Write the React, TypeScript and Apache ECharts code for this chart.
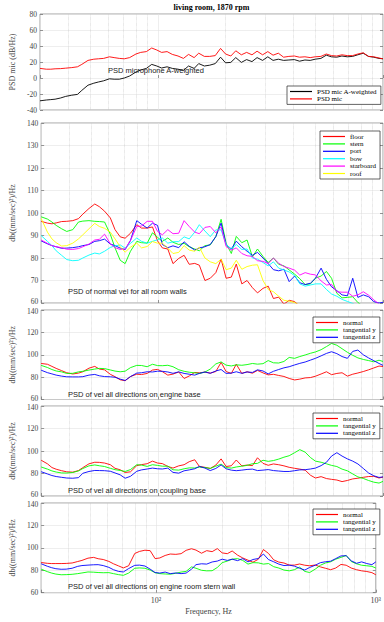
import React, { useEffect, useRef } from 'react';
import * as echarts from 'echarts';

const FREQ = [30, 32, 33.5, 35, 37, 39, 41.5, 44, 46, 49, 52, 54.5, 57.5, 61, 64, 67.5, 71, 75, 80, 84,
  89, 94, 99, 104, 110, 116, 123, 130, 137, 145, 152, 161, 170, 180, 190, 200, 211, 222, 235, 248,
  262, 276, 292, 308, 325, 343, 362, 382, 404, 426, 450, 475, 500, 530, 560, 590, 623, 657, 694, 733,
  773, 817, 862, 910, 960, 1000];

// Minor x grid lines
const X_MINOR = [40, 50, 60, 70, 80, 90, 200, 300, 400, 500, 600, 700, 800, 900];

// Panel 1: microphone
const MIC_A = [-28.5, -27.5, -27, -26.5, -25, -23, -21.5, -20.5, -15.5, -9,
  -6.5, -5, -3.5, -1, -1.5, -1.5, 0, 2.5, 7.5, 10,
  12, 17, 15, 12.5, 14, 12, 11, 9.5, 15, 12,
  18, 15, 16, 18, 26, 19, 19.5, 25.5, 19.5, 23,
  20.5, 25.5, 22, 26.5, 22, 23.5, 22, 22.5, 23, 21,
  22.5, 22, 23.5, 24.5, 28.5, 26.5, 26, 27.5, 26.5, 27,
  29, 31, 27, 26, 24.5, 24];
const MIC = [12, 11, 11, 11.5, 11.7, 12.3, 13, 14, 17, 22,
  23.5, 24, 24.5, 26.5, 25.5, 24.5, 24, 25.5, 30, 32,
  33, 37.5, 35, 32, 33, 29.5, 27.5, 24.5, 29.5, 25.5,
  31, 27, 27, 28, 37, 30, 27.5, 34, 29, 32,
  29, 33.5, 29, 33, 28.5, 31, 26, 27, 27.5, 26,
  26.5, 25.5, 26.5, 27, 30, 28, 27.5, 29, 28, 28,
  30, 31.5, 27, 26.5, 25, 24];

// Panel 2: room walls
const FLOOR = [96.3, 95.5, 95.2, 95.6, 96.2, 96.3, 96.6, 97.5, 99.5, 102,
  104, 102.8, 100.8, 97.8, 92.6, 89.4, 88.8, 91, 94.8, 93.3,
  93.3, 93.8, 87.6, 84.5, 84, 77.5, 79.8, 81.2, 77.2, 77.6,
  76.8, 70, 71, 73.5, 79.5, 71, 71.5, 77.3, 68.5, 70,
  66.8, 64.5, 66.5, 67.5, 62, 62.6, 59.5, 61.2, 60.6, 58.5,
  57.5, 56.5, 55.5, 55, 54, 53.5, 53, 52.5, 52, 51.5,
  51, 50.5, 50, 50, 49.5, 49];
const STERN = [98.3, 97.3, 96, 94.5, 93, 91.8, 92.6, 96, 96.4, 96.6,
  96.3, 96.2, 96, 90.5, 84.5, 79, 77.5, 83, 87.4, 86.8,
  86.6, 91.2, 89.2, 87.4, 88.9, 87, 86, 86.5, 85, 84,
  83.2, 85.5, 85.8, 89.5, 97.2, 86.5, 82, 89.6, 86.8, 88,
  80.5, 84, 80.7, 78, 80, 77.2, 76.5, 74.7, 72.8, 70.8,
  68.2, 68.5, 71, 72, 74, 71, 64.3, 62.3, 62.5, 62.8,
  60.2, 58.5, 57, 56, 55, 54];
const PORT = [87.6, 86.3, 85.5, 85, 84.3, 84.4, 84.6, 85, 85.5, 86,
  87.4, 87.7, 88.4, 86.2, 85.5, 84.4, 83.7, 87.8, 96.6, 95,
  93.3, 95.5, 94.5, 86, 84.6, 85.4, 84.6, 87.2, 85.2, 83.5,
  84.5, 85, 86, 89.5, 95.5, 86, 84, 87.5, 85, 83,
  81.2, 82.5, 80, 77.5, 74.8, 74.3, 75, 69.5, 72, 69,
  68.2, 68.8, 71, 75.5, 70.5, 67.2, 65.5, 63.6, 63.2, 71,
  62.5, 63.6, 62.8, 60.6, 60, 60.3];
const BOW = [90, 87.4, 85.5, 83.2, 81.2, 79.3, 78.8, 79, 80, 81.3,
  82.2, 81.8, 83, 84.7, 85.4, 85.8, 84.4, 86.5, 88.9, 87.4,
  86.6, 87.4, 88.1, 88.9, 86.6, 87.2, 87.3, 89.4, 88.5, 91.5,
  94.8, 92, 89.5, 92.5, 92.5, 86, 84, 86, 83.8, 84,
  80, 79.5, 78, 76.5, 78.3, 75.5, 74.7, 73.8, 72.2, 68.5,
  67.5, 68, 68.5, 68.5, 66, 64, 63, 61.6, 60.7, 59.8,
  58.5, 57.5, 56.5, 56, 55, 54.5];
const STARBOARD = [88, 86.5, 85.5, 85, 84.6, 83.9, 83.8, 84.2, 85, 86.2,
  88, 88.3, 90.6, 86.3, 84.6, 83.8, 84, 87.8, 94, 94.2,
  96.3, 96.3, 91.8, 90.3, 92.6, 90.8, 91, 96.6, 94, 91.5,
  90.8, 93.6, 94, 91.2, 93.8, 85.1, 83.5, 84.5, 82, 81,
  80.7, 78.8, 78.5, 77.5, 80, 77.7, 76.2, 75.5, 74.6, 72.4,
  73.5, 72.8, 72.5, 69.8, 68, 68.3, 65, 64.8, 64.8, 63,
  63.6, 65, 63.5, 61.4, 59.5, 58.5];
const ROOF = [97.6, 91.5, 88.5, 86.8, 85.3, 85.5, 86.6, 88.5, 90.3, 93,
  95.4, 94, 93.2, 91.5, 88.5, 85, 82.6, 84.8, 86.6, 84.5,
  85.1, 87.3, 86.6, 86.6, 84.4, 82, 82.5, 85.5, 83.5, 83,
  84.8, 80, 78.3, 77.5, 79.5, 74.8, 75.5, 79, 75, 76.2,
  76.8, 77, 70, 66, 65, 63, 61.2, 60.8, 60.2, 59,
  58, 57, 56.5, 56, 55.5, 55, 54.5, 54, 53.5, 53,
  52.5, 52, 51.5, 51, 50.5, 50];

// Panel 3: engine base
const E_NORMAL = [92.2, 91.5, 89.6, 87.8, 85.8, 83.9, 82.8, 83.6, 84.8, 88,
  89.6, 87.2, 86.5, 82.5, 80.4, 77.6, 76.8, 80.5, 82.6, 82.3,
  83.3, 86.3, 86.9, 84.9, 81.8, 82.7, 84.6, 78.8, 81, 84.2,
  83.8, 84.5, 83.6, 85, 93.2, 85, 83.3, 91.5, 83.3, 84.8,
  83.5, 86, 83.8, 82, 82.5, 81.5, 80.6, 78.8, 77.5, 78.2,
  79.3, 79.6, 80.8, 82.8, 84.8, 82.2, 83.3, 83.9, 80.9, 82.6,
  83.7, 85, 86.5, 88.2, 89.9, 89.5];
const E_TY = [90.5, 88.6, 86.8, 85.5, 84.7, 83.3, 83.4, 84.7, 85.2, 86.3,
  87.2, 87.8, 87.6, 86.4, 85.4, 84.8, 85.3, 88.5, 90.5, 90.4,
  89.3, 91.5, 90.3, 90.2, 90.6, 89.3, 86.6, 85.2, 84.4, 83.8,
  83.3, 84.5, 87.2, 91.8, 93.6, 90.7, 90, 91, 90.6, 91.2,
  92.2, 91.6, 92, 94.8, 92.8, 92.6, 94, 97.6, 96.8, 98.4,
  99.8, 101.3, 102.5, 104.5, 107.3, 110.1, 108.5, 105.4, 102.2, 99.5,
  97.2, 95.8, 94.8, 93.7, 95.1, 94];
const E_TZ = [86.2, 84, 82.9, 81.8, 80.9, 80.3, 80.2, 80.2, 80.4, 81.8,
  82.4, 81.2, 80.5, 80.3, 79.9, 78.2, 77, 80.5, 83.6, 83.9,
  84.8, 84.6, 85.3, 85.2, 84.6, 83.4, 84.7, 83.3, 82.6, 81.8,
  83.3, 84.6, 83.4, 85.5, 86.8, 83.3, 83.6, 84.8, 83.4, 84.6,
  84.2, 86.5, 85.5, 82.9, 85.2, 86.8, 88.3, 89.3, 90.9, 92.3,
  93.5, 95.2, 96.8, 99, 101.2, 102.7, 101, 98.4, 96.8, 103,
  104.2, 100, 97.2, 94.7, 92.2, 90.5];

// Panel 4: coupling base
const C_NORMAL = [91.8, 88.6, 85.3, 83.8, 82.5, 81.5, 81.2, 82.6, 85.2, 88.6,
  90, 89.9, 89.3, 87.8, 84.6, 83.3, 80.9, 81.5, 87, 87.9,
  88.7, 91, 89.3, 88.8, 86.3, 84.8, 86.8, 87.8, 90.5, 92.2,
  86.3, 85.5, 84.5, 87.5, 93, 86.2, 86.9, 92, 86.8, 87.5,
  87, 94, 89, 87.3, 88.5, 87.8, 86.8, 85.5, 84.6, 83.9,
  83, 78.5, 76, 77.2, 75.5, 74.8, 74.2, 72.8, 73.8, 75.2,
  75.8, 76.6, 77.3, 77.5, 76, 76.8];
const C_TY = [85.8, 83.9, 82.3, 81.3, 80.5, 80.4, 80.9, 82.3, 84.4, 86.8,
  87.6, 86.9, 86.2, 84.6, 83.4, 82.7, 81.8, 83.5, 87.8, 87.5,
  86.3, 87.8, 87.2, 86.5, 86.5, 83.3, 83, 84.2, 85, 84.9,
  85.7, 85.3, 84.5, 86.5, 88.3, 85.3, 84.8, 85.8, 86.5, 87.2,
  88.7, 89, 91.8, 90.8, 91.5, 92.8, 94.5, 95.8, 98.5, 101.2,
  99, 94.2, 91, 90, 88.6, 87.2, 86.2, 83.9, 82.4, 79.6,
  77, 75.6, 73.8, 72.3, 71.5, 73];
const C_TZ = [81.6, 79.6, 78.2, 77.3, 76.6, 76, 75.8, 76.3, 80.2, 81.8,
  82.7, 82.6, 82.5, 82, 80.5, 78.8, 75.8, 77.5, 82, 83.2,
  84, 84.8, 84.2, 84, 84.8, 81, 80.3, 82.4, 83.2, 84.2,
  86.3, 84.8, 82.6, 84.5, 87.6, 84.2, 83, 82.5, 83, 83.6,
  83.9, 82.6, 83, 83.5, 82.6, 82.2, 81.8, 81.8, 82.5, 83.2,
  83.4, 84, 84.8, 87, 90, 95.5, 98.5, 95.5, 93, 91,
  88.5, 84.5, 80.5, 78, 76.5, 77];

// Panel 5: engine room stern wall
const S_NORMAL = [86.9, 86.2, 86, 86, 86, 86.1, 86.5, 87.8, 88.8, 90.8,
  91.5, 90.3, 89.6, 87.9, 85.8, 83.9, 82.1, 84, 95, 96.8,
  97.9, 97.5, 90.4, 91, 93.2, 94.5, 94.2, 94.8, 97.8, 99.2,
  98, 95.2, 97.5, 96.6, 99.3, 95.5, 94.8, 97.2, 93.5, 91,
  89, 87.2, 89.8, 98.5, 95, 89.3, 87.3, 86.5, 84.6, 84.6,
  85.6, 84.5, 84, 84.7, 83, 81.8, 80.5, 82, 85.2, 84.5,
  82, 80.5, 79.5, 78.9, 77.9, 76];
const S_TY = [81, 78.8, 77.5, 76.6, 76, 76.1, 76.4, 77, 77.6, 78.5,
  78.3, 78, 77.8, 77.9, 77, 76.1, 75.5, 77.5, 81.8, 82.1,
  81.8, 80.2, 77.8, 77, 76.7, 76.5, 77.3, 78.4, 79, 83,
  81.8, 80, 79.5, 79.6, 82.5, 86.8, 88.2, 89.9, 90.4, 88.8,
  85.5, 86.8, 86.6, 85.5, 86, 83.2, 82, 80.2, 79.5, 80.5,
  82.8, 79, 78, 81, 84.5, 86.5, 87.6, 89.9, 91.5, 93.2,
  87.8, 85.8, 84.5, 84, 83.5, 82];
const S_TZ = [85.8, 83.6, 82.3, 81.4, 80.9, 81, 81.8, 83.5, 84.2, 84.6,
  84.9, 85, 84.2, 82.6, 80.5, 79, 78.5, 81.5, 84.4, 84.6,
  83.8, 81, 78, 77.5, 78.4, 77, 77.6, 77, 77.5, 81,
  85, 85.8, 85.5, 87.4, 88.2, 89.9, 88.8, 89.9, 88.6, 90.4,
  87.5, 89.6, 90.5, 94.5, 89.5, 87.6, 85.5, 84.2, 84.6, 83.7,
  81.8, 80.2, 82.5, 84.5, 86.8, 87.6, 88.1, 90.4, 92.8, 93,
  88.5, 86.2, 87.5, 86, 85, 87.5];

const SERIF = '"Liberation Serif", "Times New Roman", serif';
const SANS = '"Liberation Sans", Arial, sans-serif';

const TITLE = 'living room, 1870 rpm';
const Y_NAMES = ['PSD mic (dB/Hz)', 'db((mm/sec)²)/Hz', 'db((mm/sec)²)/Hz', 'db((mm/sec)²)/Hz', 'db((mm/sec)²)/Hz'];
const NOTES = [
  'PSD microphone A-weighted',
  'PSD of normal vel for all room walls',
  'PSD of vel all directions on engine base',
  'PSD of vel all directions on coupling base',
  'PSD of vel all directions on engine room stern wall',
];

const PANELS = [
  { top: 14, height: 96, min: -40, max: 80, interval: 20 },
  { top: 123, height: 180, min: 60, max: 140, interval: 10 },
  { top: 310, height: 89.5, min: 60, max: 140, interval: 20 },
  { top: 406, height: 90, min: 60, max: 140, interval: 20 },
  { top: 503, height: 89.7, min: 60, max: 140, interval: 20 },
];

const SERIES_DEF = [
  { panel: 0, name: 'PSD mic A-weighted', color: '#000000', data: MIC_A },
  { panel: 0, name: 'PSD mic', color: '#ff0000', data: MIC },
  { panel: 1, name: 'floor', color: '#ff0000', data: FLOOR },
  { panel: 1, name: 'stern', color: '#00ff00', data: STERN },
  { panel: 1, name: 'port', color: '#0000ff', data: PORT },
  { panel: 1, name: 'bow', color: '#00ffff', data: BOW },
  { panel: 1, name: 'starboard', color: '#ff00ff', data: STARBOARD },
  { panel: 1, name: 'roof', color: '#ffff00', data: ROOF },
  { panel: 2, name: 'normal', color: '#ff0000', data: E_NORMAL },
  { panel: 2, name: 'tangential y', color: '#00ff00', data: E_TY },
  { panel: 2, name: 'tangential z', color: '#0000ff', data: E_TZ },
  { panel: 3, name: 'normal', color: '#ff0000', data: C_NORMAL },
  { panel: 3, name: 'tangential y', color: '#00ff00', data: C_TY },
  { panel: 3, name: 'tangential z', color: '#0000ff', data: C_TZ },
  { panel: 4, name: 'normal', color: '#ff0000', data: S_NORMAL },
  { panel: 4, name: 'tangential y', color: '#00ff00', data: S_TY },
  { panel: 4, name: 'tangential z', color: '#0000ff', data: S_TZ },
];

const LEGENDS = [
  { left: 287, top: 86, data: ['PSD mic A-weighted', 'PSD mic'] },
  { left: 320, top: 131, data: ['floor', 'stern', 'port', 'bow', 'starboard', 'roof'] },
  { left: 313, top: 317, data: ['normal', 'tangential y', 'tangential z'] },
  { left: 313, top: 413, data: ['normal', 'tangential y', 'tangential z'] },
  { left: 313, top: 509, data: ['normal', 'tangential y', 'tangential z'] },
];

const NOTE_POS = [
  { x: 108, y: 70 },
  { x: 68, y: 291.5 },
  { x: 68, y: 394 },
  { x: 68, y: 490 },
  { x: 68, y: 586.5 },
];

function buildOption() {
  const grid = PANELS.map((p) => ({
    left: 40, width: 343, top: p.top, height: p.height,
    show: true, borderColor: '#7a7a7a', borderWidth: 0.7, backgroundColor: 'transparent',
  }));

  const xAxis = PANELS.map((_, i) => ({
    type: 'log', logBase: 10, gridIndex: i, min: 30, max: 1000,
    axisLine: { show: false },
    axisTick: { show: true, inside: true, length: 3, lineStyle: { color: '#555', width: 0.6 } },
    axisLabel: {
      show: i === 4, margin: 4, fontSize: 8, fontFamily: SERIF, color: '#444',
      formatter: (v: number) => (Math.round(v) === 100 ? '10²' : Math.round(v) === 1000 ? '10³' : ''),
    },
    splitLine: { show: true, lineStyle: { color: '#e2e2e2', width: 0.6 } },
    name: i === 4 ? 'Frequency, Hz' : '',
    nameLocation: 'middle', nameGap: 15,
    nameTextStyle: { fontSize: 8, fontFamily: SERIF, color: '#444' },
  }));

  const yAxis: any[] = [];
  PANELS.forEach((p, i) => {
    const shiftMax = i >= 2; // top label sits right under the panel above
    const shiftMin = i >= 1 && i <= 3; // bottom label sits right above the panel below
    yAxis.push({
      type: 'value', gridIndex: i, min: p.min, max: p.max, interval: p.interval, position: 'left',
      axisLine: { show: false },
      axisTick: { show: true, inside: true, length: 3, lineStyle: { color: '#555', width: 0.6 } },
      axisLabel: {
        fontSize: 7.5, lineHeight: 7, fontFamily: SERIF, color: '#444', margin: 3,
        formatter: (v: number) => {
          if (shiftMax && v === p.max) return '{dn|' + v + '}';
          if (shiftMin && v === p.min) return '{up|' + v + '}';
          return String(v);
        },
        rich: {
          dn: { fontSize: 7.5, lineHeight: 7, fontFamily: SERIF, color: '#444', padding: [3, 0, 0, 0] },
          up: { fontSize: 7.5, lineHeight: 7, fontFamily: SERIF, color: '#444', padding: [0, 0, 3, 0] },
        },
      },
      splitLine: { show: true, lineStyle: { color: '#e2e2e2', width: 0.6 } },
      name: Y_NAMES[i], nameLocation: 'middle', nameGap: 19, nameRotate: 90,
      nameTextStyle: { fontSize: 8, fontFamily: SERIF, color: '#444' },
    });
  });
  PANELS.forEach((p, i) => {
    yAxis.push({
      type: 'value', gridIndex: i, min: p.min, max: p.max, interval: p.interval, position: 'right',
      axisLine: { show: false },
      axisTick: { show: true, inside: true, length: 3, lineStyle: { color: '#555', width: 0.6 } },
      axisLabel: { show: false },
      splitLine: { show: false },
    });
  });

  const firstOfPanel = new Set<number>();
  const series = SERIES_DEF.map((s) => {
    const isFirst = !firstOfPanel.has(s.panel);
    firstOfPanel.add(s.panel);
    const item: any = {
      type: 'line', name: s.name, xAxisIndex: s.panel, yAxisIndex: s.panel,
      data: FREQ.map((f, k) => [f, s.data[k]]),
      showSymbol: false, symbol: 'none', clip: true, z: 3,
      color: s.color,
      lineStyle: { color: s.color, width: 0.9 },
      emphasis: { disabled: true },
    };
    if (isFirst) {
      item.markLine = {
        silent: true, symbol: ['none', 'none'], z: 1, animation: false,
        label: { show: false },
        lineStyle: { type: 'dotted', color: '#c4c4c4', width: 0.6 },
        data: X_MINOR.map((v) => ({ xAxis: v })),
      };
    }
    return item;
  });

  const legend = LEGENDS.map((l) => ({
    data: l.data, left: l.left, top: l.top, orient: 'vertical',
    icon: 'rect', itemWidth: 22, itemHeight: 1.2, itemGap: 0.4,
    padding: [2, 4, 2, 3],
    backgroundColor: '#ffffff', borderColor: '#222', borderWidth: 0.7, borderRadius: 0,
    selectedMode: false,
    textStyle: { fontSize: 7, fontFamily: SERIF, color: '#000', lineHeight: 7 },
  }));

  const graphic: any[] = [
    {
      type: 'text', x: 211.5, y: 7.5, z: 100,
      style: { text: TITLE, fontSize: 8, fontWeight: 'bold', fontFamily: SERIF, fill: '#000', align: 'center', verticalAlign: 'middle' },
    },
  ];
  NOTES.forEach((t, i) => {
    graphic.push({
      type: 'text', x: NOTE_POS[i].x, y: NOTE_POS[i].y, z: 100,
      style: { text: t, fontSize: 7.5, fontFamily: SANS, fill: '#222', align: 'left', verticalAlign: 'middle' },
    });
  });

  return {
    animation: false,
    backgroundColor: '#ffffff',
    grid, xAxis, yAxis, series, legend, graphic,
  };
}

export default function App() {
  const ref = useRef<HTMLDivElement>(null);
  useEffect(() => {
    if (!ref.current) return;
    const chart = echarts.init(ref.current, undefined, { renderer: 'svg' });
    chart.setOption(buildOption() as any);
    return () => chart.dispose();
  }, []);
  return (
    <div
      ref={ref}
      style={{ position: 'absolute', left: 0, top: 0, width: 384, height: 622, background: '#fff' }}
    />
  );
}
